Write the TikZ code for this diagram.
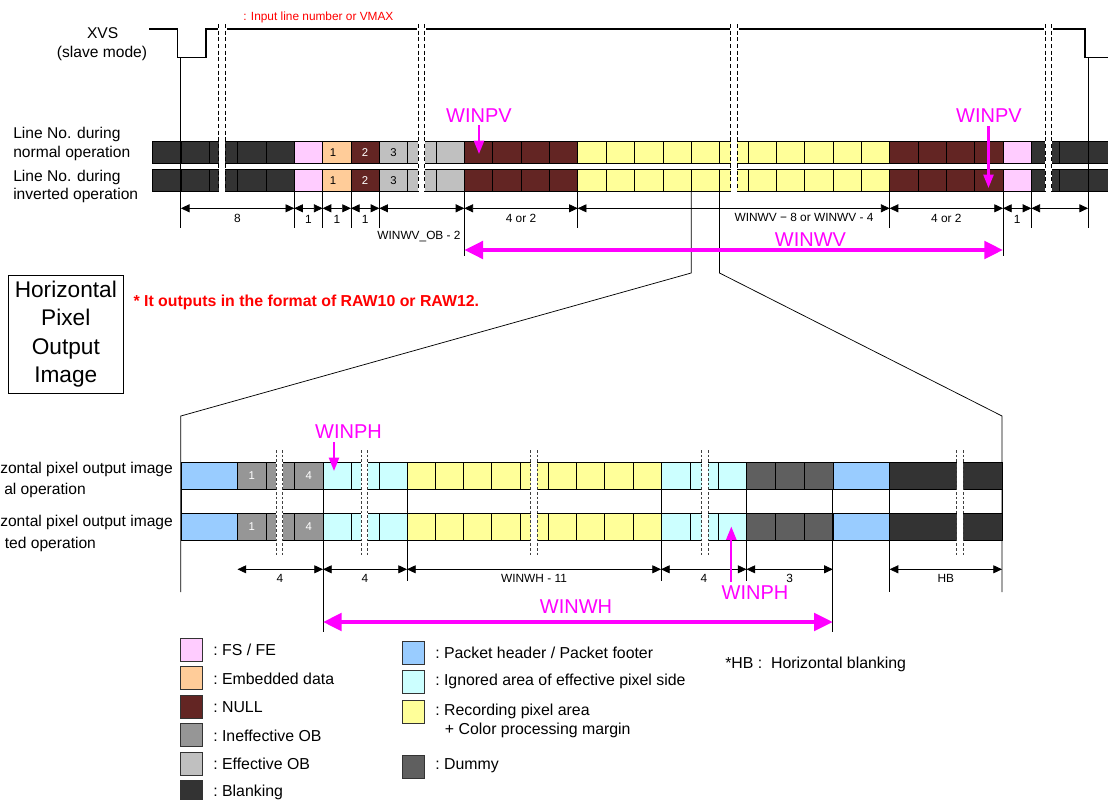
\documentclass[tikz,border=0pt]{standalone}
\usepackage{fontspec}
\setmainfont{Liberation Sans}
\usetikzlibrary{arrows.meta}
\definecolor{blank}{HTML}{333333}
\definecolor{fsfe}{HTML}{FFCCFF}
\definecolor{emb}{HTML}{FFCC99}
\definecolor{nul}{HTML}{632523}
\definecolor{iob}{HTML}{969696}
\definecolor{eob}{HTML}{C0C0C0}
\definecolor{rec}{HTML}{FFFF99}
\definecolor{ign}{HTML}{CCFFFF}
\definecolor{pkt}{HTML}{99CCFF}
\definecolor{dum}{HTML}{5F5F5F}
\definecolor{mag}{HTML}{FF00FF}
\begin{document}
\begin{tikzpicture}[x=0.75pt,y=-0.75pt,
  cell/.style={draw=black,line width=0.45pt},
  ext/.style={draw=black,line width=0.55pt},
  dimline/.style={draw=black,line width=0.55pt,{Triangle[length=6.5pt,width=6pt]}-{Triangle[length=6.5pt,width=6pt]}},
  brkA/.style={draw=black,line width=0.55pt,dash pattern=on 3pt off 2pt},
  brkB/.style={draw=black!75,line width=0.55pt,dash pattern=on 2pt off 1.5pt},
  dlbl/.style={inner sep=0pt,font=\fontsize{8.9}{10}\selectfont},
  clbl/.style={inner sep=0pt,font=\fontsize{8.5}{10}\selectfont},
  txt/.style={inner sep=0pt,font=\fontsize{11.7}{13.8}\selectfont},
  mlbl/.style={inner sep=0pt,text=mag,font=\fontsize{15}{18}\selectfont},
  marr/.style={draw=mag,line width=1.7pt,-{Triangle[length=10pt,width=7.5pt]}},
  warr/.style={draw=mag,line width=3pt,{Triangle[length=14pt,width=13pt]}-{Triangle[length=14pt,width=13pt]}},
  leg/.style={draw=black!80,line width=0.5pt},
  ltxt/.style={inner sep=0pt,anchor=west,font=\fontsize{11.9}{14}\selectfont},
]
\useasboundingbox (0,0) rectangle (1108,800);
\clip (0,0) rectangle (1108,800);

% ---------- XVS ----------
\node[txt] (xvs) at (102.7,33) {XVS};
\node[txt] (xvsm) at (102,53) {(slave mode)};
\draw[line width=0.8pt] (149,29) -- (177.5,29) -- (177.5,57.7) -- (206,57.7) -- (206,29) -- (1085,29) -- (1085,57.7) -- (1108,57.7);
\node[inner sep=0pt,text=red,font=\fontsize{8.9}{10}\selectfont,anchor=west] (vmax) at (243,17) {: Input line number or VMAX};

% ---------- row labels (top) ----------
\node[txt,anchor=west,align=left] (ln1) at (13,144) {Line No. during\\normal operation};
\node[txt,anchor=west,align=left] (ln2) at (13,186.3) {Line No. during\\inverted operation};

% ---------- top cells ----------
\foreach \ya/\yb in {141/163.3,169/191.7}{
  \foreach \a/\b/\c in {0/4/blank,5/5/fsfe,6/6/emb,7/7/nul,8/10/eob,11/14/nul,15/25/rec,26/29/nul,30/30/fsfe,31/33/blank}{
    \foreach \i in {\a,...,\b}{
      \pgfmathsetmacro\xa{152.5+28.35*\i}
      \pgfmathsetmacro\xb{\xa+28.35}
      \filldraw[cell,fill=\c] (\xa,\ya) rectangle (\xb,\yb);
    }
  }
}
\foreach \yc in {152.2,180.4}{
  \node[clbl] at (333,\yc) {1};
  \node[clbl,text=white] at (365.1,\yc) {2};
  \node[clbl] at (393.5,\yc) {3};
}

% ---------- top extension lines ----------
\draw[ext] (180.85,57.7) -- (180.85,228);
\draw[ext] (1088.05,57.7) -- (1088.05,228);
\foreach \x in {294.25,322.6,350.95,379.3,577.75,889.6,1031.35} \draw[ext] (\x,191.7) -- (\x,228);
\draw[ext] (464.35,191.7) -- (464.35,256);
\draw[ext] (1003,191.7) -- (1003,256);

% ---------- zoom lines ----------
\draw[ext] (691.15,191.7) -- (691.15,273) -- (180.85,416) -- (180.85,592);
\draw[ext] (719.5,191.7) -- (719.5,273) -- (1002,416) -- (1002,592);

% ---------- top breaks ----------
\foreach \c in {222,421.5,734,1048.3}{
  \fill[white] (\c-4.5,24) rectangle (\c+4.5,34);
  \fill[white] (\c-3.3,24) rectangle (\c+3.3,191.7);
  \draw[brkA] (\c-3.3,24) -- (\c-3.3,191.7);
  \draw[brkA] (\c+3.3,24) -- (\c+3.3,191.7);
}

% ---------- top dimensions ----------
\draw[dimline] (180.85,208.3) -- (294.25,208.3);
\draw[dimline] (294.25,208.3) -- (322.6,208.3);
\draw[dimline] (322.6,208.3) -- (350.95,208.3);
\draw[dimline] (350.95,208.3) -- (379.3,208.3);
\draw[dimline] (379.3,208.3) -- (464.35,208.3);
\draw[dimline] (464.35,208.3) -- (577.75,208.3);
\draw[dimline] (577.75,208.3) -- (889.6,208.3);
\draw[dimline] (889.6,208.3) -- (1003,208.3);
\draw[dimline] (1003,208.3) -- (1031.35,208.3);
\draw[dimline] (1031.35,208.3) -- (1088.05,208.3);
\node[dlbl] at (237.5,218) {8};
\node[dlbl] at (308.4,219.5) {1};
\node[dlbl] at (336.8,219.5) {1};
\node[dlbl] at (365.1,219.5) {1};
\node[dlbl] at (419,237) {WINWV\_OB - 2};
\node[dlbl] at (521,218) {4 or 2};
\node[dlbl] at (804,217) {WINWV − 8 or WINWV - 4};
\node[dlbl] at (946.3,218) {4 or 2};
\node[dlbl] at (1017.2,219.5) {1};

% ---------- magenta top ----------
\node[mlbl] (pv1) at (479,116) {WINPV};
\draw[marr] (479,125) -- (479,154);
\node[mlbl] (pv2) at (989,116) {WINPV};
\draw[marr] (988.5,126) -- (988.5,188);
\node[mlbl] (wv) at (810.5,240) {WINWV};
\draw[warr] (464.35,250) -- (1003,250);

% ---------- box and note ----------
\node[draw=black,line width=0.7pt,minimum width=86.25pt,minimum height=88.7pt,inner sep=0pt,align=center,font=\fontsize{17}{21.4}\selectfont] (hpoi) at (65.8,334.2) {Horizontal\\Pixel\\Output\\Image};
\node[inner sep=0pt,anchor=west,text=red,font=\bfseries\fontsize{11.9}{14}\selectfont] (note) at (133.3,302.7) {* It outputs in the format of RAW10 or RAW12.};

% ---------- bottom row labels ----------
\node[txt,anchor=west] at (0,469) {zontal pixel output image};
\node[txt,anchor=west] at (4,490) {al operation};
\node[txt,anchor=west] at (0,522.7) {zontal pixel output image};
\node[txt,anchor=west] at (4.6,544) {ted operation};

% ---------- bottom cells ----------
\foreach \ya/\yb in {462.5/489.3,513.3/540.7}{
  \foreach \xa/\xb/\c in {181/237.5/pkt,237.5/266/iob,266/294.6/iob,294.6/323/iob,323/351.5/ign,351.5/379/ign,379/407/ign,407/435.2/rec,435.2/463.4/rec,463.4/491.7/rec,491.7/519.9/rec,519.9/548.1/rec,548.1/576.3/rec,576.3/604.6/rec,604.6/632.8/rec,632.8/661/rec,661/690/ign,690/718.6/ign,718.6/746.5/ign,746.5/775.3/dum,775.3/804/dum,804/832.8/dum,832.8/889.6/pkt,889.6/1002/blank}{
    \filldraw[cell,fill=\c] (\xa,\ya) rectangle (\xb,\yb);
  }
}
\foreach \yc in {476,527}{
  \node[clbl,text=white] at (251.8,\yc) {1};
  \node[clbl,text=white] at (308.8,\yc) {4};
}

% ---------- bottom extension lines ----------
\foreach \x in {323,832.8} \draw[ext] (\x,489.3) -- (\x,632);
\foreach \x in {407,661,746.5} \draw[ext] (\x,489.3) -- (\x,581);
\draw[ext] (889.6,489.3) -- (889.6,592);
\draw[ext] (181,489.3) -- (181,513.3);
\draw[ext] (1002,489.3) -- (1002,513.3);

% ---------- bottom breaks ----------
\foreach \c in {279.5,364.6,533.8,705,960}{
  \fill[white] (\c-3.2,450) rectangle (\c+3.2,556);
  \draw[brkB] (\c-3.2,450) -- (\c-3.2,556);
  \draw[brkB] (\c+3.2,450) -- (\c+3.2,556);
}

% ---------- bottom dimensions ----------
\draw[dimline] (237.5,569.3) -- (323,569.3);
\draw[dimline] (323,569.3) -- (407,569.3);
\draw[dimline] (407,569.3) -- (661,569.3);
\draw[dimline] (661,569.3) -- (746.5,569.3);
\draw[dimline] (746.5,569.3) -- (832.8,569.3);
\draw[dimline] (889.6,569.3) -- (1002,569.3);
\node[dlbl] at (280,578) {4};
\node[dlbl] at (365,578) {4};
\node[dlbl] at (534,578) {WINWH - 11};
\node[dlbl] at (704,578) {4};
\node[dlbl] at (789.6,578) {3};
\node[dlbl] at (945.8,578) {HB};

% ---------- magenta bottom ----------
\node[mlbl] (ph1) at (348.5,432) {WINPH};
\draw[marr] (334,442) -- (334,471);
\node[mlbl] (ph2) at (755,593) {WINPH};
\draw[marr] (731.3,582) -- (731.3,526.5);
\node[mlbl] (wh) at (576,607) {WINWH};
\draw[warr] (323,622) -- (832.8,622);

% ---------- legend ----------
\foreach \y/\c/\t in {638/fsfe/{FS / FE},666.5/emb/{Embedded data},695/nul/{NULL},723.5/iob/{Ineffective OB},752/eob/{Effective OB},780.5/blank/{Blanking}}{
  \filldraw[leg,fill=\c] (180.6,\y) rectangle (202.8,\y+23);
  \node[ltxt] at (213,\y+12) {:\ \t};
}
\foreach \y/\c/\t in {641.7/pkt/{Packet header / Packet footer},670/ign/{Ignored area of effective pixel side},700/rec/{Recording pixel area},755/dum/{Dummy}}{
  \filldraw[leg,fill=\c] (402.6,\y) rectangle (424.8,\y+23);
  \node[ltxt] at (435,\y+11) {:\ \t};
}
\node[ltxt] at (444.7,730) {+ Color processing margin};
\node[ltxt] at (725,664) {*HB :\ \ Horizontal blanking};
\end{tikzpicture}
\end{document}
